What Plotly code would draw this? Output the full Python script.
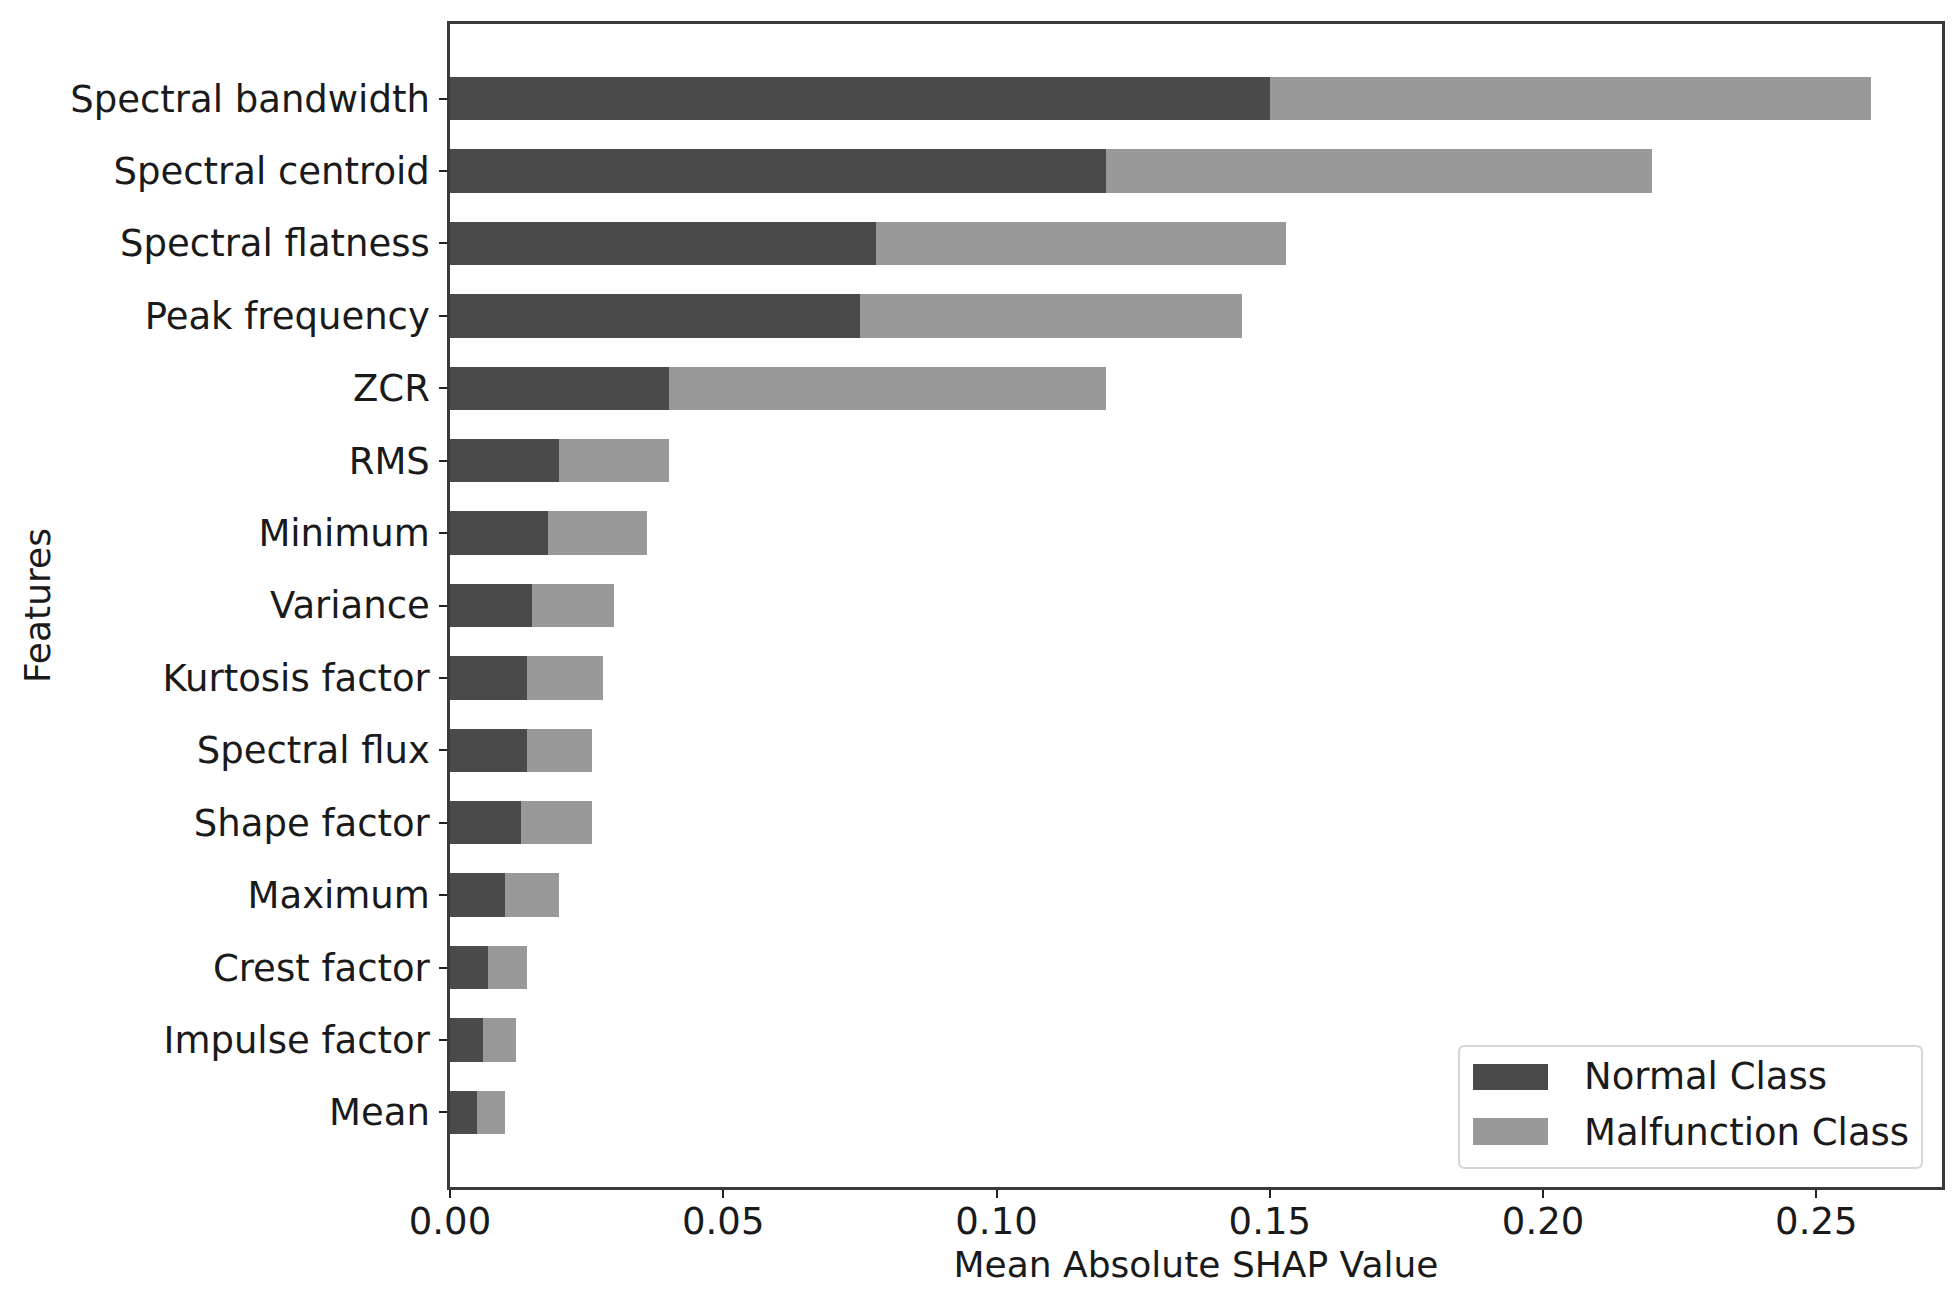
import plotly.graph_objects as go

features = ["Spectral bandwidth", "Spectral centroid", "Spectral flatness", "Peak frequency",
            "ZCR", "RMS", "Minimum", "Variance", "Kurtosis factor", "Spectral flux",
            "Shape factor", "Maximum", "Crest factor", "Impulse factor", "Mean"]
normal_class = [0.150, 0.120, 0.078, 0.075, 0.040, 0.020, 0.018, 0.015, 0.014, 0.014,
                0.013, 0.010, 0.007, 0.006, 0.005]
malfunction_class = [0.110, 0.100, 0.075, 0.070, 0.080, 0.020, 0.018, 0.015, 0.014, 0.012,
                     0.013, 0.010, 0.007, 0.006, 0.005]
x_ticks = [0.0, 0.05, 0.10, 0.15, 0.20, 0.25]
x_tick_labels = ["0.00", "0.05", "0.10", "0.15", "0.20", "0.25"]
series_names = ["Normal Class", "Malfunction Class"]
series_colors = ["#4a4a4a", "#999999"]

FONT = "DejaVu Sans"

fig = go.Figure()
for name, vals, col in zip(series_names, [normal_class, malfunction_class], series_colors):
    fig.add_trace(go.Bar(y=features, x=vals, orientation="h", name=name,
                         marker=dict(color=col, line=dict(width=0)), width=0.6,
                         showlegend=False))

# matplotlib-style legend box (pixel offsets from bottom-right corner of the axes)
def rounded(x0, y0, x1, y1, r):
    return (f"M{x0+r},{y0} L{x1-r},{y0} Q{x1},{y0} {x1},{y0+r} L{x1},{y1-r} "
            f"Q{x1},{y1} {x1-r},{y1} L{x0+r},{y1} Q{x0},{y1} {x0},{y1-r} "
            f"L{x0},{y0+r} Q{x0},{y0} {x0+r},{y0} Z")

shapes = [dict(type="path", xref="paper", yref="paper", xsizemode="pixel", ysizemode="pixel",
               xanchor=1, yanchor=0, path=rounded(-483, 19, -20, 141, 6),
               line=dict(color="#d6d6d6", width=2), fillcolor="rgba(255,255,255,0.85)",
               layer="above")]
annotations = []
patch_y = [(97, 123), (42, 69)]
text_y = [111, 55]
for name, col, (py0, py1), ty in zip(series_names, series_colors, patch_y, text_y):
    shapes.append(dict(type="rect", xref="paper", yref="paper", xsizemode="pixel",
                       ysizemode="pixel", xanchor=1, yanchor=0,
                       x0=-469, x1=-394, y0=py0, y1=py1,
                       line=dict(width=0), fillcolor=col, layer="above"))
    annotations.append(dict(xref="paper", yref="paper", x=1, y=0, xshift=-360, yshift=ty,
                            xanchor="left", yanchor="middle", showarrow=False,
                            text=name, font=dict(family=FONT, size=37, color="#1a1a1a")))

fig.update_layout(
    barmode="stack",
    width=1958, height=1312,
    margin=dict(l=450, r=16, t=24, b=125),
    paper_bgcolor="white", plot_bgcolor="white",
    font=dict(family=FONT, size=37, color="#1a1a1a"),
    showlegend=False,
    shapes=shapes, annotations=annotations,
)
fig.update_xaxes(range=[0, 0.273], tickvals=x_ticks, ticktext=x_tick_labels,
                 ticks="outside", ticklen=8, tickwidth=1.5, tickcolor="#222",
                 ticklabelstandoff=-8,
                 showline=True, linecolor="#3a3a3a", linewidth=2.5, mirror=True,
                 showgrid=False, zeroline=False,
                 title=dict(text="Mean Absolute SHAP Value", standoff=10,
                            font=dict(size=36)))
fig.update_yaxes(categoryorder="array", categoryarray=features[::-1],
                 range=[-1.03, 15.03],
                 ticks="outside", ticklen=8, tickwidth=1.5, tickcolor="#222",
                 ticklabelstandoff=2,
                 showline=True, linecolor="#3a3a3a", linewidth=2.5, mirror=True,
                 showgrid=False, zeroline=False,
                 title=dict(text="Features", standoff=9, font=dict(size=36)))

fig.write_html("out.html", config={"displayModeBar": False},
               post_script="document.body.style.margin='0';"
                           "document.body.style.overflow='hidden';")
